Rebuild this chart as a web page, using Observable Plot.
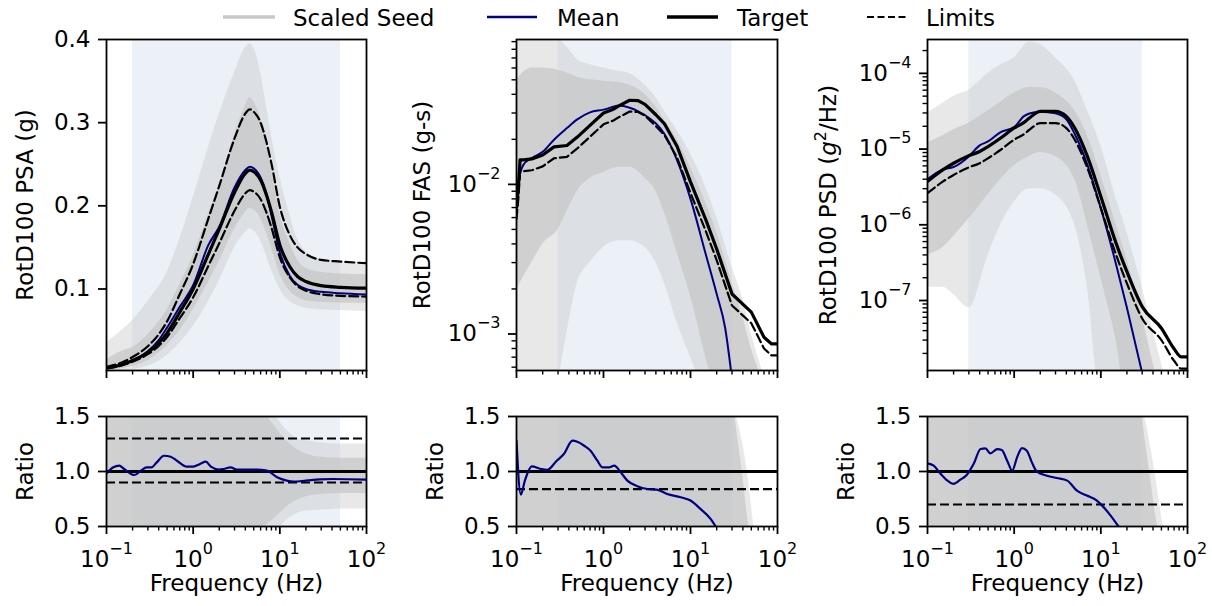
<!DOCTYPE html>
<html><head><meta charset="utf-8">
<script src="https://cdn.jsdelivr.net/npm/d3@7"></script>
<script src="https://cdn.jsdelivr.net/npm/@observablehq/plot@0.6"></script>
<style>
body{margin:0;background:#fff;}
#fig{position:relative;width:1212px;height:606px;overflow:hidden;font-family:"DejaVu Sans",sans-serif;background:#fff;}
#fig svg{position:absolute;}
</style></head><body><div id="fig"></div>
<script>
// ---------- axis ticks ----------
const FREQ_MAJOR = [0.1, 1, 10, 100];
const FREQ_MINOR = [0.2,0.3,0.4,0.5,0.6,0.7,0.8,0.9,2,3,4,5,6,7,8,9,20,30,40,50,60,70,80,90];
const FREQ_TICK_LABELS = ["10^-1","10^0","10^1","10^2"];
const PSA_TICKS = [0.1, 0.2, 0.3, 0.4];
const PSA_TICK_LABELS = ["0.1","0.2","0.3","0.4"];
const FAS_TICKS = [0.001, 0.01];
const FAS_TICK_LABELS = ["10^-3","10^-2"];
const FAS_MINOR = [6e-4,7e-4,8e-4,9e-4,2e-3,3e-3,4e-3,5e-3,6e-3,7e-3,8e-3,9e-3,2e-2,3e-2,4e-2,5e-2,6e-2,7e-2,8e-2,9e-2];
const PSD_TICKS = [1e-7, 1e-6, 1e-5, 1e-4];
const PSD_TICK_LABELS = ["10^-7","10^-6","10^-5","10^-4"];
const PSD_MINOR = [2e-8,3e-8,4e-8,5e-8,6e-8,7e-8,8e-8,9e-8,2e-7,3e-7,4e-7,5e-7,6e-7,7e-7,8e-7,9e-7,2e-6,3e-6,4e-6,5e-6,6e-6,7e-6,8e-6,9e-6,2e-5,3e-5,4e-5,5e-5,6e-5,7e-5,8e-5,9e-5,2e-4];
const RATIO_TICKS = [0.5, 1.0, 1.5];
const RATIO_TICK_LABELS = ["0.5","1.0","1.5"];

// ---------- shaded frequency bands (Hz) ----------
const PSA_BAND = [0.2, 50];
const FAS_BAND = [0.3, 30];
const PSD_BAND = [0.3, 30];

// ---------- PSA ----------
const PSA_F = [0.1,0.15,0.2,0.3,0.4,0.5,0.7,1,1.5,2,3,4,4.5,5,6,7,8,10,13,16,20,30,50,100];
const PSA_TARGET = [0.005,0.009,0.014,0.024,0.035,0.047,0.072,0.100,0.142,0.172,0.216,0.239,0.243,0.241,0.231,0.213,0.193,0.153,0.127,0.115,0.109,0.104,0.102,0.101];
const PSA_MEAN = [0.0049,0.0094,0.0136,0.025,0.0385,0.0536,0.0785,0.1045,0.153,0.175,0.222,0.243,0.247,0.245,0.234,0.215,0.189,0.144,0.116,0.105,0.100,0.0966,0.095,0.0935];
const PSA_UPPER = [0.0065,0.0117,0.0182,0.0312,0.0455,0.0611,0.0936,0.130,0.185,0.224,0.281,0.311,0.316,0.313,0.300,0.277,0.251,0.199,0.165,0.150,0.142,0.135,0.133,0.131];
const PSA_LOWER = [0.0045,0.0081,0.0126,0.0216,0.0315,0.0423,0.0648,0.090,0.128,0.155,0.194,0.215,0.219,0.217,0.208,0.192,0.174,0.138,0.114,0.1035,0.098,0.0936,0.0918,0.0909];
const PSA_SEED_F = [0.1,0.15,0.2,0.3,0.5,0.7,1,1.5,2,3,4,4.5,5,6,7,8,10,13,16,20,30,50,100];
const PSA_SEED_MAX = [0.035,0.05,0.062,0.085,0.12,0.16,0.21,0.27,0.31,0.36,0.39,0.395,0.39,0.36,0.32,0.285,0.235,0.19,0.16,0.145,0.135,0.132,0.13];
const PSA_SEED_MIN = [0.0,0.001,0.003,0.007,0.02,0.035,0.055,0.085,0.11,0.15,0.168,0.172,0.17,0.158,0.14,0.123,0.1,0.085,0.08,0.077,0.075,0.074,0.073];
const PSA_SEED_CORE_HI = [0.015,0.025,0.03,0.045,0.075,0.105,0.14,0.19,0.225,0.285,0.32,0.33,0.325,0.305,0.275,0.245,0.19,0.155,0.135,0.125,0.12,0.118,0.117];
const PSA_SEED_CORE_LO = [0.002,0.004,0.007,0.014,0.032,0.05,0.075,0.108,0.133,0.172,0.192,0.197,0.195,0.185,0.168,0.15,0.118,0.098,0.09,0.086,0.084,0.083,0.083];

// ---------- FAS ----------
const FAS_F = [0.1,0.105,0.11,0.12,0.15,0.2,0.27,0.38,0.5,0.7,1,1.3,1.5,2,2.5,3,4,5,7,10,15,20,30,50,70,85,100];
const FAS_TARGET = [0.0070,0.0096,0.0146,0.0146,0.0148,0.0157,0.0178,0.0182,0.0207,0.0248,0.0300,0.0318,0.0335,0.0365,0.0363,0.0343,0.0292,0.0255,0.0180,0.0104,0.0058,0.0037,0.00185,0.0014,0.00095,0.00086,0.00086];
const FAS_LOWER = [0.00588,0.00806,0.01226,0.01226,0.01243,0.01319,0.01495,0.01529,0.01739,0.02083,0.0252,0.02671,0.02814,0.03066,0.03049,0.02881,0.02453,0.02142,0.01512,0.00874,0.00487,0.00311,0.00155,0.00118,0.0008,0.00072,0.00072];
const FAS_MEAN_F = [0.1,0.105,0.11,0.12,0.15,0.2,0.27,0.38,0.5,0.7,1,1.3,1.5,2,2.5,3,4,5,7,10,15,20,25,30];
const FAS_MEAN = [0.0090,0.0100,0.0118,0.0135,0.0150,0.0165,0.0199,0.0238,0.0272,0.0303,0.0316,0.0330,0.0337,0.0325,0.0308,0.029,0.0255,0.0218,0.0145,0.0080,0.0034,0.00185,0.0011,0.0005];
const FAS_SEED_F = [0.1,0.15,0.2,0.3,0.4,0.5,0.7,1,1.5,2,3,4,5,7,10,15,20,30,40,50,65,80,100];
const FAS_SEED_MAX = [0.095,0.095,0.095,0.093,0.08,0.068,0.063,0.06,0.057,0.055,0.046,0.038,0.031,0.023,0.016,0.0095,0.006,0.0028,0.0017,0.001,0.0006,0.0004,0.0003];
const FAS_SEED_MIN = [0.0003,0.0003,0.0003,0.0005,0.0012,0.0022,0.003,0.0038,0.0042,0.0042,0.0038,0.003,0.0022,0.0012,0.0007,0.0004,0.0003,0.0003,0.0003,0.0003,0.0003,0.0003,0.0003];
const FAS_SEED_CORE_HI = [0.05,0.06,0.06,0.058,0.055,0.052,0.05,0.049,0.048,0.046,0.04,0.033,0.027,0.02,0.013,0.0075,0.0048,0.0022,0.0013,0.0008,0.0005,0.0003,0.0003];
const FAS_SEED_CORE_LO = [0.002,0.003,0.004,0.005,0.007,0.009,0.011,0.012,0.013,0.013,0.011,0.009,0.0065,0.0035,0.0018,0.0007,0.0004,0.0003,0.0003,0.0003,0.0003,0.0003,0.0003];

// ---------- PSD ----------
const PSD_F = [0.1,0.15,0.2,0.3,0.4,0.5,0.7,1,1.3,1.5,2,3,4,5,7,10,15,20,30,50,70,85,100];
const PSD_TARGET = [3.74e-6,5.3e-6,6.5e-6,8.2e-6,9.3e-6,1.08e-5,1.4e-5,1.9e-5,2.25e-5,2.57e-5,3.15e-5,3.15e-5,2.7e-5,1.9e-5,8.0e-6,2.37e-6,5.7e-7,2.4e-7,8.3e-8,4.3e-8,2.3e-8,1.8e-8,1.8e-8];
const PSD_LOWER = [2.62e-6,3.71e-6,4.55e-6,5.74e-6,6.51e-6,7.56e-6,9.8e-6,1.33e-5,1.575e-5,1.8e-5,2.2e-5,2.2e-5,1.89e-5,1.33e-5,5.6e-6,1.66e-6,4.0e-7,1.68e-7,5.8e-8,3.0e-8,1.6e-8,1.26e-8,1.26e-8];
const PSD_MEAN_F = [0.1,0.15,0.2,0.3,0.4,0.5,0.7,1,1.3,1.5,2,3,4,5,7,10,15,20,30];
const PSD_MEAN = [4.0e-6,5.4e-6,5.8e-6,8.0e-6,1.12e-5,1.26e-5,1.68e-5,1.95e-5,2.72e-5,2.95e-5,3.12e-5,2.96e-5,2.48e-5,1.58e-5,6.2e-6,1.66e-6,3.0e-7,8e-8,1.1e-8];
const PSD_SEED_F = [0.1,0.15,0.2,0.3,0.5,0.7,1,1.5,2,3,5,7,10,15,20,30,40,50,65,100];
const PSD_SEED_MAX = [3e-5,4e-5,5e-5,6e-5,1e-4,1.3e-4,1.6e-4,2.6e-4,2.4e-4,1.6e-4,8e-5,3.2e-5,1.1e-5,2.2e-6,8e-7,1.5e-7,4e-8,1.5e-8,5e-9,5e-9];
const PSD_SEED_MIN = [1.5e-7,1.5e-7,1.2e-7,8e-8,4e-7,1e-6,2e-6,3e-6,3e-6,2.5e-6,1e-6,1.5e-7,5e-9,5e-9,5e-9,5e-9,5e-9,5e-9,5e-9,5e-9];
const PSD_SEED_CORE_HI = [1.2e-5,1.5e-5,1.8e-5,2.2e-5,3.2e-5,4.2e-5,5.5e-5,6.5e-5,6.5e-5,5.5e-5,3.2e-5,1.5e-5,4.5e-6,1e-6,3.5e-7,6e-8,1.5e-8,5e-9,5e-9,5e-9];
const PSD_SEED_CORE_LO = [4e-7,5e-7,7e-7,1.2e-6,2.5e-6,4e-6,6e-6,8e-6,9e-6,8e-6,4e-6,1e-6,2e-7,3e-8,5e-9,5e-9,5e-9,5e-9,5e-9,5e-9];

// ---------- Ratios ----------
const RATIO_TARGET = [1.0];
const PSA_RATIO_LIMITS = [0.9, 1.3];
const FAS_RATIO_LIMITS = [0.84];
const PSD_RATIO_LIMITS = [0.7];
const PSA_RATIO_F = [0.1,0.12,0.14,0.16,0.21,0.25,0.29,0.33,0.38,0.46,0.55,0.65,0.85,1.0,1.2,1.4,1.6,2.0,2.25,2.7,3.2,4.2,5.4,7.1,9.3,12,14.4,20,29,41,100];
const PSA_RATIO_MEAN = [0.983,1.038,1.053,1.023,0.968,1.008,1.038,1.038,1.083,1.143,1.134,1.098,1.044,1.044,1.068,1.089,1.044,1.017,1.023,1.038,1.017,1.017,1.017,1.008,0.947,0.917,0.908,0.917,0.929,0.932,0.926];
const FAS_RATIO_F = [0.1,0.112,0.125,0.15,0.19,0.225,0.29,0.35,0.44,0.5,0.6,0.71,0.85,0.97,1.16,1.33,1.58,1.88,2.45,3.2,4.1,5.4,7.7,10,13,17,19.5];
const FAS_RATIO_MEAN = [1.28,0.79,0.92,1.047,1.023,1.014,1.098,1.159,1.28,1.27,1.234,1.189,1.098,1.038,1.038,1.053,0.992,0.917,0.866,0.841,0.835,0.796,0.766,0.736,0.66,0.57,0.5];
const PSD_RATIO_F = [0.1,0.118,0.14,0.17,0.198,0.24,0.285,0.34,0.41,0.466,0.53,0.64,0.72,0.83,0.95,1.08,1.23,1.4,1.6,1.83,2.4,3.1,4.1,5.3,6.9,9.0,10.3,12.9,16];
const PSD_RATIO_MEAN = [1.074,1.053,0.983,0.917,0.887,0.926,0.971,1.068,1.204,1.21,1.165,1.204,1.195,1.098,1.008,1.128,1.213,1.189,1.083,0.998,0.962,0.941,0.917,0.826,0.781,0.736,0.692,0.601,0.5];
const PSA_RATIO_SEED_F = [0.1,1,5,8,10,13,16,20,30,50,100];
const PSA_RATIO_SEED_MAX = [1.6,1.6,1.6,1.55,1.45,1.35,1.3,1.28,1.26,1.25,1.25];
const PSA_RATIO_SEED_MIN = [0.4,0.4,0.4,0.45,0.5,0.58,0.62,0.64,0.65,0.66,0.66];
const PSA_RATIO_CORE_HI = [1.6,1.6,1.6,1.45,1.35,1.25,1.2,1.16,1.13,1.12,1.12];
const PSA_RATIO_CORE_LO = [0.4,0.4,0.45,0.55,0.62,0.7,0.74,0.77,0.79,0.8,0.8];
const FAS_RATIO_SEED_F = [0.1,30,35,40,45,50,55];
const FAS_RATIO_SEED_MAX = [1.6,1.6,1.45,1.25,1.0,0.7,0.4];
const FAS_RATIO_CORE_HI = [1.6,1.6,1.3,0.95,0.6,0.4,0.4];
const FAS_RATIO_SEED_MIN = [0.4,0.4,0.4,0.4,0.4,0.4,0.4];
const PSD_RATIO_SEED_F = [0.1,28,33,38,44,50,55];
const PSD_RATIO_SEED_MAX = [1.6,1.6,1.45,1.2,0.9,0.6,0.4];
const PSD_RATIO_CORE_HI = [1.6,1.6,1.25,0.9,0.55,0.4,0.4];
const PSD_RATIO_SEED_MIN = [0.4,0.4,0.4,0.4,0.4,0.4,0.4];

// ---------- styling ----------
const SEED_GREY = "#c6c6c6";
const BAND_FILL = "#ecf0f7";
const MEAN_COLOR = "navy";
const FONT = 23;

const rows = (F, V) => F.map((f, i) => ({f, v: V[i]}));
const bandRows = (F, hi, lo) => F.map((f, i) => ({f, hi: hi[i], lo: lo[i]}));

function seedMarks(F, oHi, oLo, cHi, cLo) {
  return [
    Plot.areaY(bandRows(F, oHi, oLo), {x: "f", y1: "lo", y2: "hi", fill: SEED_GREY, fillOpacity: 0.4, curve: "monotone-x", clip: true}),
    Plot.areaY(bandRows(F, cHi, cLo), {x: "f", y1: "lo", y2: "hi", fill: SEED_GREY, fillOpacity: 0.72, curve: "monotone-x", clip: true})
  ];
}
const lineMark = (F, V, opts) => Plot.line(rows(F, V), {x: "f", y: "v", curve: "monotone-x", clip: true, ...opts});
const lookup = (ticks, labels) => d => labels[ticks.indexOf(d)];

function axes({bottomLabels, yTicks, yLabels, yMinor}) {
  const m = [
    Plot.axisX(FREQ_MAJOR, {anchor: "bottom", tickSize: 8, tickPadding: 16, strokeWidth: 1.8, stroke: "black", fill: "black", fontSize: FONT,
      tickFormat: bottomLabels ? lookup(FREQ_MAJOR, FREQ_TICK_LABELS) : () => ""}),
    Plot.axisX(FREQ_MINOR, {anchor: "bottom", tickSize: 4.5, strokeWidth: 1.4, stroke: "black", tickFormat: () => ""}),
    Plot.axisY(yTicks, {anchor: "left", tickSize: 8, tickPadding: 8, strokeWidth: 1.8, stroke: "black", fill: "black", fontSize: FONT,
      tickFormat: lookup(yTicks, yLabels)})
  ];
  if (yMinor) m.push(Plot.axisY(yMinor, {anchor: "left", tickSize: 4.5, strokeWidth: 1.4, stroke: "black", tickFormat: () => ""}));
  return m;
}

const fig = document.getElementById("fig");
const NS = "http://www.w3.org/2000/svg";

function fixText(svg) {
  svg.querySelectorAll("text").forEach(t => {
    const s = t.textContent;
    const m = s.match(/^10\^(-?\d+)$/);
    if (m) {
      t.textContent = "10";
      const ts = document.createElementNS(NS, "tspan");
      ts.setAttribute("dy", "-13");
      ts.setAttribute("font-size", "16px");
      ts.textContent = m[1].replace("-", "\u2212");
      t.appendChild(ts);
    } else if (s.includes("g^2")) {
      const [a, b] = s.split("g^2");
      t.textContent = a;
      const g = document.createElementNS(NS, "tspan");
      g.setAttribute("font-style", "italic"); g.textContent = "g";
      const sup = document.createElementNS(NS, "tspan");
      sup.setAttribute("dy", "-10"); sup.setAttribute("font-size", "16px"); sup.textContent = "2";
      const rest = document.createElementNS(NS, "tspan");
      rest.setAttribute("dy", "10"); rest.textContent = b;
      t.append(g, sup, rest);
    }
  });
}

function panel({left, top, width, height, ml, mr, mt, mb, y, marks}) {
  const svg = Plot.plot({
    width, height, marginLeft: ml, marginRight: mr, marginTop: mt, marginBottom: mb,
    x: {type: "log", domain: [0.1, 100], label: null},
    y: {...y, label: null},
    style: {background: "transparent", fontFamily: "'DejaVu Sans', sans-serif", fontSize: FONT + "px", overflow: "visible", color: "black"},
    marks
  });
  svg.style.left = left + "px";
  svg.style.top = top + "px";
  fixText(svg);
  fig.appendChild(svg);
}

const yLabel = (txt, dx) => Plot.text([txt], {text: d => d, frameAnchor: "left", dx, rotate: -90, textAnchor: "middle", lineAnchor: "middle", fontSize: FONT, fill: "black"});
const xLabel = Plot.text(["Frequency (Hz)"], {text: d => d, frameAnchor: "bottom", dy: 64, lineAnchor: "bottom", fontSize: FONT, fill: "black"});
const bandMark = b => Plot.rect([b], {x1: d => d[0], x2: d => d[1], fill: BAND_FILL});
const frame = Plot.frame({stroke: "black", strokeWidth: 1.8});
const dash = {stroke: "black", strokeWidth: 2.2, strokeDasharray: "9,4"};

const COLS = [
  {left: 0, width: 392, ml: 106, mr: 26},
  {left: 400, width: 400, ml: 116, mr: 23},
  {left: 800, width: 412, ml: 127, mr: 25}
];
const TOP = {top: 14, height: 366, mt: 25, mb: 10};
const BOT = {top: 396, height: 210, mt: 20, mb: 80};

// --- top row ---
panel({...COLS[0], ...TOP, y: {type: "linear", domain: [0.002, 0.4]}, marks: [
  bandMark(PSA_BAND),
  ...seedMarks(PSA_SEED_F, PSA_SEED_MAX, PSA_SEED_MIN, PSA_SEED_CORE_HI, PSA_SEED_CORE_LO),
  lineMark(PSA_F, PSA_MEAN, {stroke: MEAN_COLOR, strokeWidth: 2}),
  lineMark(PSA_F, PSA_TARGET, {stroke: "black", strokeWidth: 3.2}),
  lineMark(PSA_F, PSA_UPPER, dash),
  lineMark(PSA_F, PSA_LOWER, dash),
  ...axes({bottomLabels: false, yTicks: PSA_TICKS, yLabels: PSA_TICK_LABELS}),
  yLabel("RotD100 PSA (g)", -81),
  frame
]});
panel({...COLS[1], ...TOP, y: {type: "log", domain: [5.7e-4, 0.093]}, marks: [
  bandMark(FAS_BAND),
  ...seedMarks(FAS_SEED_F, FAS_SEED_MAX, FAS_SEED_MIN, FAS_SEED_CORE_HI, FAS_SEED_CORE_LO),
  lineMark(FAS_MEAN_F, FAS_MEAN, {stroke: MEAN_COLOR, strokeWidth: 2}),
  lineMark(FAS_F, FAS_TARGET, {stroke: "black", strokeWidth: 3.2, curve: "linear"}),
  lineMark(FAS_F, FAS_LOWER, {...dash, curve: "linear"}),
  ...axes({bottomLabels: false, yTicks: FAS_TICKS, yLabels: FAS_TICK_LABELS, yMinor: FAS_MINOR}),
  yLabel("RotD100 FAS (g-s)", -94),
  frame
]});
panel({...COLS[2], ...TOP, y: {type: "log", domain: [1.19e-8, 2.8e-4]}, marks: [
  bandMark(PSD_BAND),
  ...seedMarks(PSD_SEED_F, PSD_SEED_MAX, PSD_SEED_MIN, PSD_SEED_CORE_HI, PSD_SEED_CORE_LO),
  lineMark(PSD_MEAN_F, PSD_MEAN, {stroke: MEAN_COLOR, strokeWidth: 2}),
  lineMark(PSD_F, PSD_TARGET, {stroke: "black", strokeWidth: 3.2}),
  lineMark(PSD_F, PSD_LOWER, dash),
  ...axes({bottomLabels: false, yTicks: PSD_TICKS, yLabels: PSD_TICK_LABELS, yMinor: PSD_MINOR}),
  yLabel("RotD100 PSD (g^2/Hz)", -99),
  frame
]});

// --- bottom row ---
function ratioPanel(col, band, sF, sMax, sMin, cHi, cLo, mF, mV, limits) {
  panel({...col, ...BOT, y: {type: "linear", domain: [0.5, 1.5]}, marks: [
    bandMark(band),
    ...seedMarks(sF, sMax, sMin, cHi, cLo),
    Plot.ruleY(RATIO_TARGET, {stroke: "black", strokeWidth: 3.2}),
    Plot.ruleY(limits, dash),
    lineMark(mF, mV, {stroke: MEAN_COLOR, strokeWidth: 2.2}),
    ...axes({bottomLabels: true, yTicks: RATIO_TICKS, yLabels: RATIO_TICK_LABELS}),
    yLabel("Ratio", -81),
    xLabel,
    frame
  ]});
}
ratioPanel(COLS[0], PSA_BAND, PSA_RATIO_SEED_F, PSA_RATIO_SEED_MAX, PSA_RATIO_SEED_MIN, PSA_RATIO_CORE_HI, PSA_RATIO_CORE_LO, PSA_RATIO_F, PSA_RATIO_MEAN, PSA_RATIO_LIMITS);
ratioPanel(COLS[1], FAS_BAND, FAS_RATIO_SEED_F, FAS_RATIO_SEED_MAX, FAS_RATIO_SEED_MIN, FAS_RATIO_CORE_HI, FAS_RATIO_SEED_MIN, FAS_RATIO_F, FAS_RATIO_MEAN, FAS_RATIO_LIMITS);
ratioPanel(COLS[2], PSD_BAND, PSD_RATIO_SEED_F, PSD_RATIO_SEED_MAX, PSD_RATIO_SEED_MIN, PSD_RATIO_CORE_HI, PSD_RATIO_SEED_MIN, PSD_RATIO_F, PSD_RATIO_MEAN, PSD_RATIO_LIMITS);

// --- legend ---
const LEGEND = [
  {label: "Scaled Seed", x1: 223, x2: 275, tx: 293, stroke: "#c8c8c8", w: 3.5, dash: null},
  {label: "Mean", x1: 487, x2: 537, tx: 557, stroke: MEAN_COLOR, w: 2.6, dash: null},
  {label: "Target", x1: 667, x2: 718, tx: 737, stroke: "black", w: 3.5, dash: null},
  {label: "Limits", x1: 867, x2: 907, tx: 926, stroke: "black", w: 2, dash: "7,3.5"}
];
const leg = document.createElementNS(NS, "svg");
leg.setAttribute("width", 1212); leg.setAttribute("height", 36);
leg.style.left = "0px"; leg.style.top = "0px";
for (const it of LEGEND) {
  const l = document.createElementNS(NS, "line");
  l.setAttribute("x1", it.x1); l.setAttribute("x2", it.x2);
  l.setAttribute("y1", 17); l.setAttribute("y2", 17);
  l.setAttribute("stroke", it.stroke); l.setAttribute("stroke-width", it.w);
  if (it.dash) l.setAttribute("stroke-dasharray", it.dash);
  leg.appendChild(l);
  const t = document.createElementNS(NS, "text");
  t.setAttribute("x", it.tx); t.setAttribute("y", 26);
  t.setAttribute("font-family", "DejaVu Sans"); t.setAttribute("font-size", FONT);
  t.textContent = it.label;
  leg.appendChild(t);
}
fig.appendChild(leg);
</script></body></html>
